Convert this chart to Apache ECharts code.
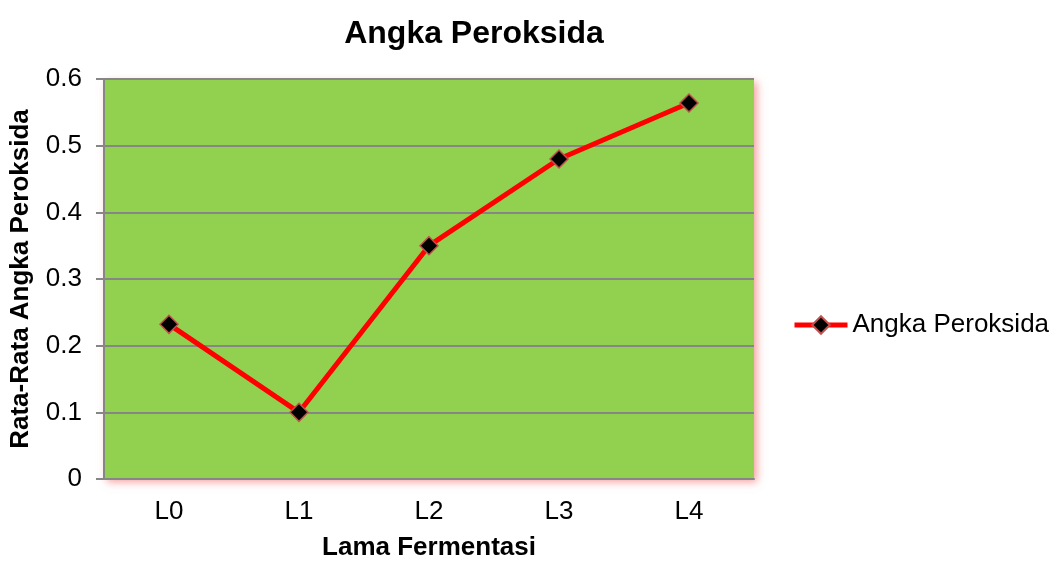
<!DOCTYPE html>
<html><head><meta charset="utf-8">
<script src="https://cdn.jsdelivr.net/npm/echarts@6/dist/echarts.min.js"></script>
<style>html,body{margin:0;padding:0;background:#fff}#c{width:1057px;height:561px}</style>
</head><body><div id="c"></div>
<script>
var categories = ['L0', 'L1', 'L2', 'L3', 'L4'];
var values = [0.232, 0.1, 0.35, 0.48, 0.564];
var seriesName = 'Angka Peroksida';
var chart = echarts.init(document.getElementById('c'));
var font = 'Arial';
chart.setOption({
  animation: false,
  textStyle: {fontFamily: font},
  title: {text: 'Angka Peroksida', left: 469, top: 13, textAlign: 'center',
    textStyle: {fontSize: 32, fontWeight: 'bold', color: '#000', fontFamily: font}},
  legend: {data: [seriesName], left: 787, top: 307, orient: 'vertical',
    itemWidth: 53, itemHeight: 22, itemGap: 4,
    lineStyle: {width: 5, color: '#FF0000'},
    textStyle: {fontSize: 26, color: '#000', fontFamily: font}},
  grid: {left: 104, top: 79, width: 650, height: 400, show: true, backgroundColor: '#92D050',
    outerBoundsMode: 'none', containLabel: false,
    borderWidth: 0, shadowColor: 'rgba(240,120,120,0.7)', shadowBlur: 8, shadowOffsetX: 3, shadowOffsetY: 3},
  xAxis: {type: 'category', data: categories, boundaryGap: true,
    name: 'Lama Fermentasi', nameLocation: 'middle', nameGap: 56,
    nameTextStyle: {fontSize: 26, fontWeight: 'bold', color: '#000', fontFamily: font},
    axisLine: {lineStyle: {color: '#868686', width: 2}}, axisTick: {show: false},
    axisLabel: {fontSize: 26, color: '#000', margin: 20, fontFamily: font}},
  yAxis: {type: 'value', min: 0, max: 0.6, interval: 0.1,
    name: 'Rata-Rata Angka Peroksida', nameLocation: 'middle', nameGap: 70,
    nameTextStyle: {fontSize: 26, fontWeight: 'bold', color: '#000', fontFamily: font},
    axisLine: {show: true, lineStyle: {color: '#868686', width: 2}},
    axisTick: {show: true, length: 8, lineStyle: {color: '#868686', width: 2}},
    splitLine: {lineStyle: {color: '#868686', width: 2}},
    axisLabel: {fontSize: 26, color: '#000', margin: 22, fontFamily: font,
      formatter: function(v){ return v === 0 ? '0' : String(Math.round(v*10)/10); }}},
  series: [{name: seriesName, type: 'line', data: values, symbol: 'diamond', symbolSize: 18,
    lineStyle: {color: '#FF0000', width: 5},
    itemStyle: {color: '#000', borderColor: '#C0504D', borderWidth: 1.5}}]
});
</script></body></html>
